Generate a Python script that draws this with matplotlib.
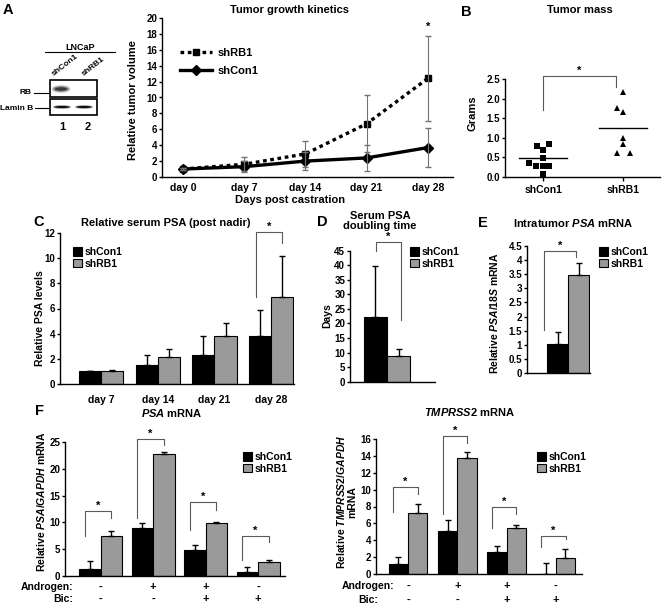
import numpy as np
import matplotlib
matplotlib.use('Agg')
import matplotlib.pyplot as plt
from matplotlib.patches import Rectangle, Ellipse

W, H = 664, 610

# A: tumor growth kinetics
days = ['day 0', 'day 7', 'day 14', 'day 21', 'day 28']
rb1_vol = [1.0, 1.6, 2.9, 6.7, 12.4]
rb1_err = [0.1, 0.9, 1.6, 3.6, 5.3]
con_vol = [1.0, 1.3, 2.0, 2.4, 3.7]
con_err = [0.1, 0.7, 1.1, 1.6, 2.5]

# B: tumor mass (grams), with column jitter
mass_groups = ['shCon1', 'shRB1']
con_mass = [0.80, 0.85, 0.70, 0.48, 0.35, 0.27, 0.27, 0.27, 0.07]
con_jit = [-0.08, 0.07, 0.0, 0.0, -0.17, -0.09, 0.0, 0.07, 0.0]
rb1_mass = [2.17, 1.77, 1.67, 1.00, 0.85, 0.62, 0.62]
rb1_jit = [0.0, -0.08, 0.0, 0.0, 0.0, -0.08, 0.08]
mass_means = [0.49, 1.25]

# C: relative serum PSA
psa_days = ['day 7', 'day 14', 'day 21', 'day 28']
psa_con = [1.0, 1.5, 2.3, 3.8]
psa_con_err = [0.05, 0.8, 1.55, 2.1]
psa_rb1 = [1.05, 2.15, 3.8, 6.9]
psa_rb1_err = [0.03, 0.6, 1.05, 3.25]

# D: PSA doubling time (days)
dt_con, dt_con_err = [22.3], [17.3]
dt_rb1, dt_rb1_err = [8.8], [2.3]

# E: intratumor PSA mRNA
ip_con, ip_con_err = [1.03], [0.42]
ip_rb1, ip_rb1_err = [3.45], [0.45]

# F: in vitro mRNA
androgen = ['-', '+', '+', '-']
bic = ['-', '-', '+', '+']
fpsa_con = [1.25, 8.9, 4.9, 0.6]
fpsa_con_err = [1.55, 0.9, 0.8, 1.1]
fpsa_rb1 = [7.5, 22.75, 9.8, 2.5]
fpsa_rb1_err = [0.9, 0.5, 0.25, 0.5]
tmp_con = [1.2, 5.1, 2.6, 0.0]
tmp_con_err = [0.8, 1.25, 0.75, 1.27]
tmp_rb1 = [7.25, 13.7, 5.45, 1.9]
tmp_rb1_err = [1.05, 0.8, 0.4, 1.1]

# significance brackets: (left start, top, right end)
fpsa_brk = [(7.4, 12.1, 10.75), (10.9, 25.6, 24.5), (8.6, 13.9, 12.3), (2.9, 7.4, 6.4)]
tmp_brk = [(7.4, 10.3, 9.45), (7.1, 16.4, 15.5), (5.5, 8.0, 7.1), (3.2, 4.5, 4.1)]

plt.rcParams['font.family'] = ['Liberation Sans', 'DejaVu Sans']
plt.rcParams['font.weight'] = 'bold'
plt.rcParams['mathtext.fontset'] = 'custom'
plt.rcParams['mathtext.rm'] = 'Liberation Sans:bold'
plt.rcParams['mathtext.it'] = 'Liberation Sans:italic:bold'
plt.rcParams['mathtext.bf'] = 'Liberation Sans:bold'

fig = plt.figure(figsize=(W / 100, H / 100), dpi=100)
GRAY = '#9a9a9a'


def add_ax(x0, x1, y0, y1):
    return fig.add_axes([x0 / W, 1 - y1 / H, (x1 - x0) / W, (y1 - y0) / H])


def ftext(x, y, s, **kw):
    kw.setdefault('ha', 'center')
    kw.setdefault('va', 'center')
    kw.setdefault('fontweight', 'bold')
    fig.text(x / W, 1 - y / H, s, **kw)


def style(ax, ysize=7):
    for s in ['top', 'right']:
        ax.spines[s].set_visible(False)
    for s in ['left', 'bottom']:
        ax.spines[s].set_linewidth(1.0)
    ax.tick_params(axis='y', direction='out', length=2.5, width=1, labelsize=ysize, pad=1)
    ax.tick_params(axis='x', length=0, labelsize=7.5)


def bracket(ax, x1, x2, y1, top, y2, fs=8):
    ax.plot([x1, x1, x2, x2], [y1, top, top, y2], color='0.35', lw=0.8, clip_on=False)
    ax.text((x1 + x2) / 2, top, '*', ha='center', va='bottom', fontsize=fs, clip_on=False)


def bars(ax, x, con, cerr, rb1, rerr, bw):
    x = np.asarray(x, float)
    ek = dict(ecolor='black', elinewidth=1, capsize=2, capthick=1)
    ax.bar(x - bw / 2, con, bw, color='black', edgecolor='black', lw=0.8,
           yerr=[np.zeros(len(con)), cerr], error_kw=ek, label='shCon1')
    ax.bar(x + bw / 2, rb1, bw, color=GRAY, edgecolor='black', lw=0.8,
           yerr=[np.zeros(len(rb1)), rerr], error_kw=ek, label='shRB1')


def bar_legend(ax, px, py):
    ax.legend(loc='upper left', bbox_to_anchor=(px / W, 1 - py / H), bbox_transform=fig.transFigure,
              frameon=False, fontsize=7.5, handlelength=0.9, handleheight=0.9,
              handletextpad=0.2, labelspacing=0.15, borderaxespad=0, borderpad=0)


# ---------- A: western blot sketch ----------
axb = add_ax(0, 130, 40, 140)
axb.set_xlim(0, 130)
axb.set_ylim(140, 40)
axb.axis('off')
axb.text(80, 47, 'LNCaP', ha='center', va='center', fontsize=6.5)
axb.plot([45, 115], [52, 52], color='black', lw=0.8)
axb.text(55, 78, 'shCon1', rotation=38, rotation_mode='anchor', ha='left', va='bottom', fontsize=6)
axb.text(85, 78, 'shRB1', rotation=38, rotation_mode='anchor', ha='left', va='bottom', fontsize=6)
axb.add_patch(Rectangle((50, 80), 47, 17, fill=False, lw=1.2))
axb.add_patch(Rectangle((50, 99), 47, 16, fill=False, lw=1.2))
for a, w, h in [(0.2, 19, 8), (0.45, 16, 5.5), (0.8, 12, 3.5)]:
    axb.add_patch(Ellipse((61, 89), w, h, color='0.15', alpha=a, lw=0))
for cx in [62, 84]:
    axb.add_patch(Ellipse((cx, 107), 18, 3.5, color='0.1', alpha=0.5, lw=0))
    axb.add_patch(Ellipse((cx, 107), 15, 2, color='0.05', lw=0))
axb.text(32, 93, 'RB', ha='right', va='center', fontsize=6)
axb.plot([34, 48], [93, 93], color='black', lw=0.8)
axb.text(33, 108, 'Lamin B', ha='right', va='center', fontsize=6)
axb.plot([35, 48], [108, 108], color='black', lw=0.8)
axb.text(62, 127, '1', ha='center', va='center', fontsize=8)
axb.text(88, 127, '2', ha='center', va='center', fontsize=8)

# ---------- A: growth curve ----------
axA = add_ax(162, 453, 18, 177)
style(axA)
x = np.arange(len(days))
axA.errorbar(x, rb1_vol, yerr=rb1_err, fmt='none', ecolor='0.45', elinewidth=0.8, capsize=2, zorder=3)
axA.errorbar(x, con_vol, yerr=con_err, fmt='none', ecolor='0.45', elinewidth=0.8, capsize=2, zorder=3)
axA.plot(x, rb1_vol, ls=(0, (1.1, 1.1)), color='black', lw=2.4, marker='s', ms=5, label='shRB1')
axA.plot(x, con_vol, ls='-', color='black', lw=2.4, marker='D', ms=5, label='shCon1')
axA.set_xlim(-0.34, 4.41)
axA.set_ylim(0, 20)
axA.set_yticks(range(0, 21, 2))
axA.set_xticks(x)
axA.set_xticklabels(days)
axA.tick_params(axis='x', pad=4)
axA.text(x[-1], 18.3, '*', ha='center', va='bottom', fontsize=8)
axA.legend(loc='upper left', bbox_to_anchor=(180 / W, 1 - 48 / H), bbox_transform=fig.transFigure,
           frameon=False, fontsize=8, handlelength=2.9, labelspacing=0.7, handletextpad=0.5,
           borderaxespad=0, borderpad=0)
ftext(290, 10, 'Tumor growth kinetics', fontsize=8)
ftext(290, 200, 'Days post castration', fontsize=8)
ftext(133, 100, 'Relative tumor volume', fontsize=8, rotation=90)
ftext(8, 10, 'A', fontsize=10.5)

# ---------- B: tumor mass ----------
axB = add_ax(505, 660, 79, 177)
style(axB)
axB.plot(np.array(con_jit), con_mass, 's', color='black', ms=4.5, mew=0)
axB.plot(1 + np.array(rb1_jit), rb1_mass, '^', color='black', ms=5, mew=0)
for i, m in enumerate(mass_means):
    axB.plot([i - 0.3, i + 0.3], [m, m], color='black', lw=1)
axB.set_xlim(-0.475, 1.46)
axB.set_ylim(0, 2.5)
axB.set_yticks(np.arange(0, 2.51, 0.5))
axB.set_yticklabels([f'{v:.1f}' for v in np.arange(0, 2.51, 0.5)])
axB.set_xticks([0, 1])
axB.set_xticklabels(mass_groups)
axB.tick_params(axis='x', length=3, width=1, direction='out', pad=3)
bracket(axB, 0, 0.91, 1.7, 2.58, 2.3)
ftext(580, 10, 'Tumor mass', fontsize=8)
ftext(473, 113, 'Grams', fontsize=8, rotation=90)
ftext(466, 12, 'B', fontsize=10.5)

# ---------- C: serum PSA ----------
axC = add_ax(60, 294, 233, 384)
style(axC)
xc = np.arange(len(psa_days))
bars(axC, xc, psa_con, psa_con_err, psa_rb1, psa_rb1_err, 0.39)
axC.set_xlim(-0.72, 3.40)
axC.set_ylim(0, 12)
axC.set_yticks(range(0, 13, 2))
axC.set_xticks(xc)
axC.set_xticklabels(psa_days)
axC.tick_params(axis='x', pad=8)
bracket(axC, 3 - 0.27, 3 + 0.18, 6.9, 12.1, 11.2)
bar_legend(axC, 73, 247)
ftext(166, 223, 'Relative serum PSA (post nadir)', fontsize=8)
ftext(40, 318, 'Relative PSA levels', fontsize=7.5, rotation=90)
ftext(39, 222, 'C', fontsize=10.5)

# ---------- D: doubling time ----------
axD = add_ax(350, 435, 250.7, 381.7)
style(axD)
bars(axD, [0], dt_con, dt_con_err, dt_rb1, dt_rb1_err, 0.4)
axD.set_xlim(-0.64, 0.83)
axD.set_ylim(0, 45)
axD.set_yticks(range(0, 46, 5))
axD.set_xticks([])
bracket(axD, -0.19, 0.24, 44.9, 47.9, 21.3)
bar_legend(axD, 410, 247)
ftext(380, 221, 'Serum PSA\ndoubling time', fontsize=8, linespacing=1.1)
ftext(327, 316, 'Days', fontsize=7.5, rotation=90)
ftext(322, 222, 'D', fontsize=10.5)

# ---------- E: intratumor PSA ----------
axE = add_ax(527, 590, 245.7, 373.3)
style(axE)
bars(axE, [0], ip_con, ip_con_err, ip_rb1, ip_rb1_err, 0.4)
axE.set_xlim(-0.79, 0.42)
axE.set_ylim(0, 4.5)
ev = np.arange(0, 4.51, 0.5)
axE.set_yticks(ev)
axE.set_yticklabels([f'{v:g}' for v in ev])
axE.set_xticks([])
bracket(axE, -0.47, 0.15, 1.53, 4.32, 4.09)
bar_legend(axE, 599, 247)
ftext(573, 223, r'Intratumor $\mathit{PSA}$ mRNA', fontsize=8)
ftext(494, 313, r'Relative $\mathit{PSA/18S}$ mRNA', fontsize=7.5, rotation=90)
ftext(483, 223, 'E', fontsize=10.5)


# ---------- F ----------
def f_panel(ax, con, cerr, rb1, rerr, brk, bw, ymax, ystep, row_y):
    style(ax)
    xf = np.arange(len(con))
    bars(ax, xf, con, cerr, rb1, rerr, bw)
    ax.set_ylim(0, ymax)
    ax.set_yticks(range(0, ymax + 1, ystep))
    ax.set_xticks([])
    for i, (y1, top, y2) in enumerate(brk):
        bracket(ax, i - 0.3, i + 0.2, y1, top, y2)
    tr = ax.get_xaxis_transform()
    for i in xf:
        ax.text(i, row_y[0], androgen[i], transform=tr, ha='center', va='center', fontsize=8, clip_on=False)
        ax.text(i, row_y[1], bic[i], transform=tr, ha='center', va='center', fontsize=8, clip_on=False)


axF1 = add_ax(65, 285, 442.3, 575.7)
f_panel(axF1, fpsa_con, fpsa_con_err, fpsa_rb1, fpsa_rb1_err, fpsa_brk, 0.41, 25, 5,
        (-(586.7 - 575.7) / 133.4, -(599 - 575.7) / 133.4))
axF1.set_xlim(-0.68, 3.51)
bar_legend(axF1, 243, 452)
ftext(172, 413, r'$\mathit{PSA}$ mRNA', fontsize=8)
ftext(41, 502, r'Relative $\mathit{PSA/GAPDH}$ mRNA', fontsize=7.5, rotation=90)
ftext(73, 586.7, 'Androgen:', fontsize=7.5, ha='right')
ftext(73, 599, 'Bic:', fontsize=7.5, ha='right')
ftext(39, 411, 'F', fontsize=10.5)

axF2 = add_ax(376, 582, 439, 574)
f_panel(axF2, tmp_con, tmp_con_err, tmp_rb1, tmp_rb1_err, tmp_brk, 0.39, 16, 2,
        (-(585.7 - 574) / 135, -(600 - 574) / 135))
axF2.set_xlim(-0.65, 3.53)
bar_legend(axF2, 537, 452)
ftext(470, 412, r'$\mathit{TMPRSS2}$ mRNA', fontsize=8)
ftext(346, 502, 'Relative $\\mathit{TMPRSS2/GAPDH}$\nmRNA', fontsize=7.5, rotation=90, linespacing=1.1)
ftext(394, 585.7, 'Androgen:', fontsize=7.5, ha='right')
ftext(378, 600, 'Bic:', fontsize=7.5, ha='right')

fig.savefig('out.png', dpi=100)
